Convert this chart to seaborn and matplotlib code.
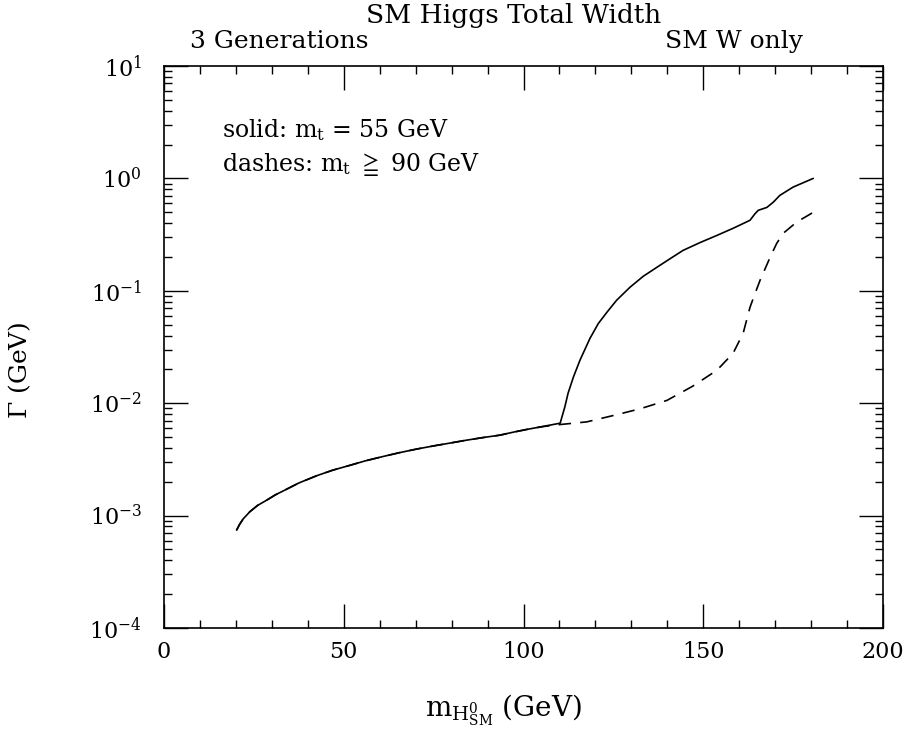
import numpy as np
import matplotlib
matplotlib.use("Agg")
import matplotlib.pyplot as plt
import matplotlib.ticker as mticker
import seaborn as sns

# Higgs mass (GeV) and total width (GeV)
# solid: m_t = 55 GeV
mass_solid = [20.2, 21.0, 22.0, 23.9, 26.0, 28.6, 31.0, 33.2, 37.5, 42.5, 47.0, 51.7, 56.0,
              61.0, 65.5, 70.3, 75.0, 79.6, 84.0, 88.8, 93.5, 97.1, 101.0, 105.5, 110.2,
              111.5, 112.4, 113.9, 115.7, 118.5, 120.8, 123.2, 125.9, 129.6, 133.3, 137.1,
              140.8, 144.4, 149.1, 153.8, 158.4, 163.0, 164.4, 165.3, 167.7, 169.5, 171.3,
              175.0, 180.6]
width_solid = [7.43e-4, 8.32e-4, 9.33e-4, 1.084e-3, 1.23e-3, 1.374e-3, 1.531e-3, 1.66e-3, 1.95e-3,
               2.265e-3, 2.54e-3, 2.80e-3, 3.07e-3, 3.36e-3, 3.63e-3, 3.91e-3, 4.17e-3, 4.42e-3,
               4.68e-3, 4.95e-3, 5.20e-3, 5.52e-3, 5.85e-3, 6.22e-3, 6.64e-3,
               9.27e-3, 1.227e-2, 1.714e-2, 2.41e-2, 3.78e-2, 5.11e-2, 6.44e-2, 8.24e-2, 0.1074,
               0.1346, 0.1618, 0.1932, 0.229, 0.2685, 0.311, 0.361, 0.424, 0.485, 0.52, 0.552,
               0.615, 0.706, 0.837, 1.0]

# dashes: m_t >= 90 GeV
mass_dash = [20.2, 21.0, 22.0, 23.9, 26.0, 28.6, 31.0, 33.2, 37.5, 42.5, 47.0, 51.7, 56.0,
             61.0, 65.5, 70.3, 75.0, 79.6, 84.0, 88.8, 93.5, 97.1, 101.0, 105.5, 110.2,
             117.6, 124.9, 132.4, 139.9, 147.0, 153.8, 158.3, 161.1, 163.0, 164.4, 165.8,
             168.6, 170.4, 172.2, 176.0, 180.6]
width_dash = [7.43e-4, 8.32e-4, 9.33e-4, 1.084e-3, 1.23e-3, 1.374e-3, 1.531e-3, 1.66e-3, 1.95e-3,
              2.265e-3, 2.54e-3, 2.80e-3, 3.07e-3, 3.36e-3, 3.63e-3, 3.91e-3, 4.17e-3, 4.42e-3,
              4.68e-3, 4.95e-3, 5.20e-3, 5.52e-3, 5.85e-3, 6.20e-3, 6.46e-3,
              6.82e-3, 7.76e-3, 8.91e-3, 1.059e-2, 1.413e-2, 1.963e-2, 2.78e-2, 4.19e-2, 7.13e-2,
              9.44e-2, 0.124, 0.1986, 0.263, 0.324, 0.409, 0.499]

sns.set_style("ticks")
plt.rcParams["font.family"] = ["DejaVu Serif"]
plt.rcParams["mathtext.fontset"] = "dejavuserif"
plt.rcParams["text.color"] = "black"
plt.rcParams["axes.labelcolor"] = "black"
plt.rcParams["xtick.color"] = "black"
plt.rcParams["ytick.color"] = "black"

fig = plt.figure(figsize=(9.05, 7.36), dpi=100)
ax = fig.add_axes([164 / 905, 1 - 628 / 736, 719 / 905, 562 / 736])

sns.lineplot(x=mass_solid, y=width_solid, color="black", lw=1.2, ax=ax)
sns.lineplot(x=mass_dash, y=width_dash, color="black", lw=1.2, ax=ax)
ax.lines[-1].set_dashes((7.5, 5.5))

ax.set_yscale("log")
ax.set_xlim(0, 200)
ax.set_ylim(1e-4, 10)

ax.xaxis.set_major_locator(mticker.MultipleLocator(50))
ax.xaxis.set_minor_locator(mticker.MultipleLocator(10))
ax.yaxis.set_major_locator(mticker.LogLocator(base=10, numticks=10))
ax.yaxis.set_minor_locator(mticker.LogLocator(base=10, subs=np.arange(2, 10), numticks=20))
ax.yaxis.set_minor_formatter(mticker.NullFormatter())
ax.yaxis.set_major_formatter(mticker.LogFormatterMathtext())

ax.tick_params(which="both", direction="in", top=True, right=True, width=1.0,
               labelsize=16, colors="black")
ax.tick_params(which="major", length=17)
ax.tick_params(which="minor", length=6)
ax.tick_params(axis="x", which="major", pad=9)
ax.tick_params(axis="y", which="major", pad=16)
for s in ax.spines.values():
    s.set_linewidth(1.2)
    s.set_color("black")

ax.set_xlabel(r"$\mathrm{m}_{\mathrm{H}^0_{\mathrm{SM}}}\ \mathrm{(GeV)}$", fontsize=20)
ax.xaxis.set_label_coords(0.5 - 20 / 719, -0.115)
ax.set_ylabel(r"$\Gamma$ (GeV)", fontsize=18)
ax.yaxis.set_label_coords(-0.182, 0.459)

ax.text(0.5 - 10 / 719, 1.09, "SM Higgs Total Width", transform=ax.transAxes,
        ha="center", va="center", fontsize=19)
ax.text(0.036, 1.043, "3 Generations", transform=ax.transAxes, ha="left", va="center", fontsize=18)
ax.text(0.889, 1.043, "SM W only", transform=ax.transAxes, ha="right", va="center", fontsize=18)
ax.text(0.081, 0.886, r"solid: m$_\mathrm{t}$ = 55 GeV", transform=ax.transAxes,
        ha="left", va="center", fontsize=17)
ax.text(0.081, 0.824, r"dashes: m$_\mathrm{t}$ $\geqq$ 90 GeV", transform=ax.transAxes,
        ha="left", va="center", fontsize=17)

fig.savefig("out.png", dpi=100)
